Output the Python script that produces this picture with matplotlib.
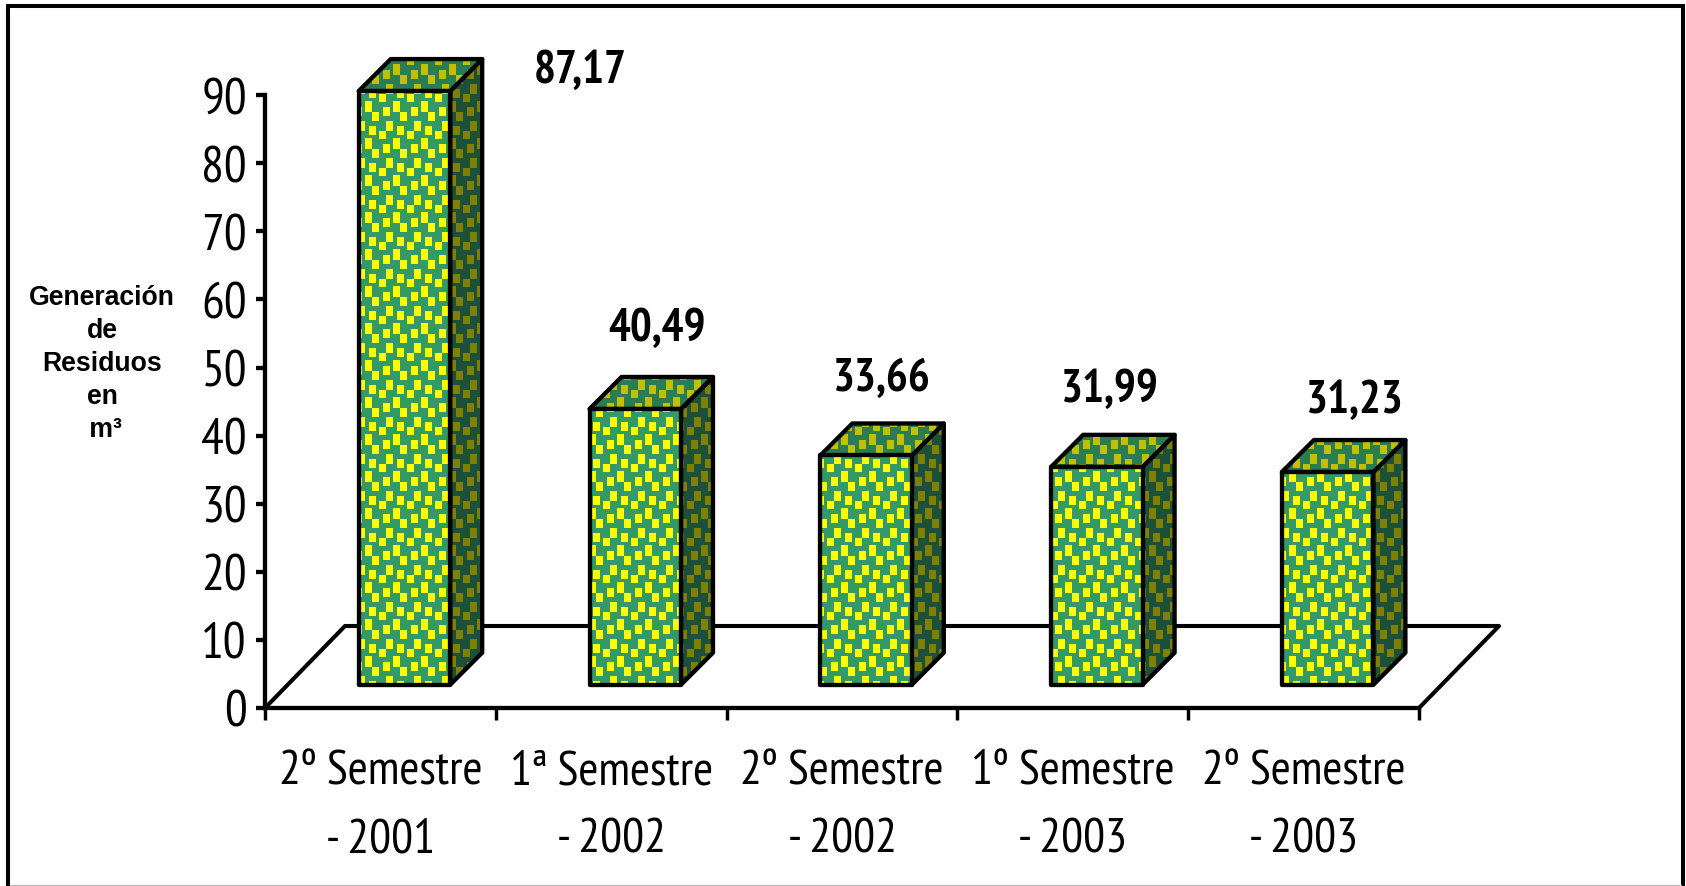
import numpy as np
import matplotlib
matplotlib.use("Agg")
import matplotlib.pyplot as plt
from matplotlib.lines import Line2D
from matplotlib.patches import Polygon

# ---- data ----
categories = ["2º Semestre\n- 2001", "1ª Semestre\n- 2002", "2º Semestre\n- 2002",
              "1º Semestre\n- 2003", "2º Semestre\n- 2003"]
values = [87.17, 40.49, 33.66, 31.99, 31.23]
value_labels = ["87,17", "40,49", "33,66", "31,99", "31,23"]
yticks = list(range(0, 100, 10))
ylabel = "Generación\nde\nResiduos\nen\n m³"

# ---- layout (pixels of the 1686x887 picture) ----
W, H = 1686, 887
AX_L, AX_R, AX_T, AX_B = 265, 1510, 20, 709
PX_CAT = 230.8
PX_UNIT = 6.81
label_dx = [176, 22, 16, 13, 27]
label_dy = [21, 81, 77, 78, 72]
BAR_LEFT = 93.7 / PX_CAT
BAR_W = 91.5 / PX_CAT
BASE = 23.3 / PX_UNIT
DEPTH_X, DEPTH_Y = 32 / PX_CAT, 32 / PX_UNIT
FLOOR_X, FLOOR_Y = 80 / PX_CAT, 82 / PX_UNIT
LW = 3.1

# ---- colours ----
FACE = {"front": ("#339966", "#FFFF00"),
        "top": ("#2A7D53", "#C0C000"),
        "side": ("#1C5038", "#808000")}

plt.rcParams["font.family"] = ["PT Sans Narrow", "DejaVu Sans"]

fig = plt.figure(figsize=(W / 100, H / 100), dpi=100, facecolor="white")
ax = fig.add_axes([AX_L / W, 1 - AX_B / H, (AX_R - AX_L) / W, (AX_B - AX_T) / H])
ax.patch.set_alpha(0)
xmax = (AX_R - AX_L) / PX_CAT
ymax = (AX_B - AX_T) / PX_UNIT
n = len(values)

# pattern tile (28 x 37 px), repeated in picture pixels
tile = np.zeros((37, 28), dtype=bool)
for x0, x1, y0, y1 in [(4, 11, 12, 21), (21, 28, 7, 17), (14, 21, 17, 25),
                       (0, 7, 24, 35), (7, 14, 35, 37), (7, 14, 0, 7),
                       (18, 25, 30, 37), (18, 25, 0, 2)]:
    tile[y0:y1, x0:x1] = True
px = AX_R - AX_L
py = AX_B - AX_T
xx = (np.arange(px) + AX_L - 365) % 28
yy = (np.arange(py) + AX_T - 300) % 37
mask = tile[np.ix_(yy, xx)]


def rgb(c):
    return np.array(matplotlib.colors.to_rgb(c))


def face_image(kind):
    bg, fg = FACE[kind]
    return np.where(mask[..., None], rgb(fg), rgb(bg))


images = {k: face_image(k) for k in FACE}


def draw_face(kind, pts, z):
    poly = Polygon(pts, closed=True, transform=ax.transData)
    im = ax.imshow(images[kind], extent=(0, xmax, 0, ymax), aspect="auto",
                   interpolation="nearest", origin="upper", zorder=z)
    im.set_clip_path(poly)
    ax.add_patch(Polygon(pts, closed=True, fill=False, edgecolor="black", lw=LW,
                         joinstyle="round", zorder=z + 0.5))


# floor
ax.plot([0, FLOOR_X, n + FLOOR_X, n], [0, FLOOR_Y, FLOOR_Y, 0], color="black",
        lw=LW * 0.95, solid_joinstyle="round", zorder=2, clip_on=False)

# bars
for i, v in enumerate(values):
    x0, x1 = i + BAR_LEFT, i + BAR_LEFT + BAR_W
    y0, y1 = BASE, BASE + v
    dx, dy = DEPTH_X, DEPTH_Y
    draw_face("side", [(x1, y0), (x1 + dx, y0 + dy), (x1 + dx, y1 + dy), (x1, y1)], 3)
    draw_face("top", [(x0, y1), (x1, y1), (x1 + dx, y1 + dy), (x0 + dx, y1 + dy)], 4)
    draw_face("front", [(x0, y0), (x1, y0), (x1, y1), (x0, y1)], 5)
    ax.annotate(value_labels[i], xy=((x0 + x1) / 2, y1),
                xytext=(label_dx[i], label_dy[i]), textcoords="offset pixels",
                ha="center", va="center", fontsize=33, fontweight="bold", zorder=8)

ax.set_xlim(0, xmax)
ax.set_ylim(0, ymax)

# axes
for s in ("top", "right"):
    ax.spines[s].set_visible(False)
for s in ("left", "bottom"):
    ax.spines[s].set_linewidth(LW)
ax.spines["left"].set_bounds(0, 90)
ax.spines["bottom"].set_bounds(0, n)
ax.set_yticks(yticks)
ax.set_yticklabels([str(t) for t in yticks], fontsize=36.5)
ax.tick_params(axis="y", length=6.5, width=LW, pad=6.6)
ax.set_xticks(range(n + 1))
ax.set_xticklabels([""] * (n + 1))
ax.tick_params(axis="x", which="major", length=8.5, width=LW * 0.8)
ax.set_xticks([i + 0.5 for i in range(n)], minor=True)
ax.set_xticklabels(categories, minor=True, fontsize=35, linespacing=1.69)
ax.tick_params(axis="x", which="minor", length=0, pad=30)

ax.set_ylabel(ylabel, rotation=0, fontsize=19.2, fontweight="bold",
              family=["Liberation Sans"], ha="center", va="center",
              linespacing=1.36, multialignment="center")
ax.yaxis.set_label_coords((102 - AX_L) / (AX_R - AX_L), (AX_B - 364) / (AX_B - AX_T))

# outer frame: black on three sides, thin grey rule at the lower edge
tr = fig.transFigure
def fx(p): return p / W
def fy(p): return 1 - p / H
fig.add_artist(Line2D([fx(8), fx(8), fx(1683), fx(1683)], [fy(887), fy(7), fy(7), fy(887)],
                      color="black", lw=2.9, transform=tr, solid_joinstyle="miter"))
fig.add_artist(Line2D([fx(10), fx(1681)], [fy(885.5), fy(885.5)], color="#BDBDBD", lw=0.9, transform=tr))

fig.savefig("out.png", dpi=100, facecolor="white")
